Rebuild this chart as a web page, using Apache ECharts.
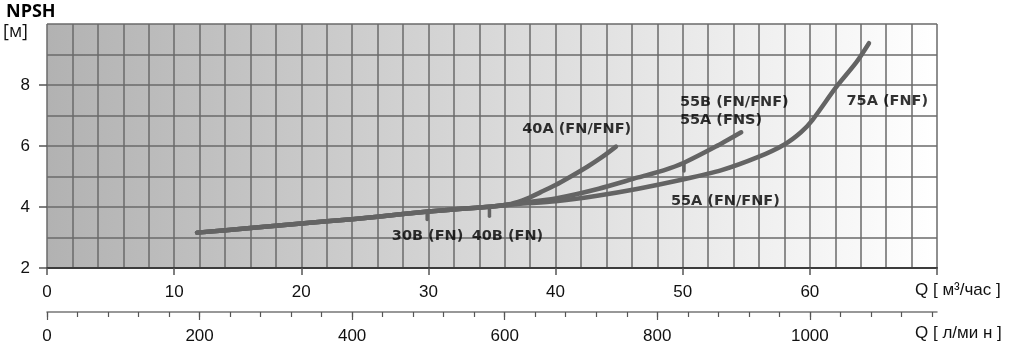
<!DOCTYPE html>
<html>
<head>
<meta charset="utf-8">
<script src="https://cdn.jsdelivr.net/npm/echarts@6/dist/echarts.min.js"></script>
<style>
html,body{margin:0;padding:0;background:#fff;}
#chart{width:1009px;height:349px;}
</style>
</head>
<body>
<div id="chart"></div>
<script>
// ---- data ----
var qTicks = [0, 10, 20, 30, 40, 50, 60, 70];          // m3/h ticks
var qLabels = [0, 10, 20, 30, 40, 50, 60];              // m3/h labels
var lMinorTicks = [0, 40, 80, 120, 160, 200, 240, 280, 320, 360, 400, 440, 480, 520, 560, 600,
                   640, 680, 720, 760, 800, 840, 880, 920, 960, 1000, 1040, 1080, 1120, 1160];
var lLabels = [0, 200, 400, 600, 800, 1000];            // l/min labels & long ticks
var yLabels = [2, 4, 6, 8];

// common part of all curves
var curveBase = [[11.8, 3.16], [16, 3.31], [20, 3.46], [24, 3.6], [28, 3.77], [30, 3.85], [32, 3.92], [34.8, 4.01]];
// 40A (FN/FNF) tail
var curve40A = [[36.5, 4.1], [37.8, 4.28], [38.8, 4.48], [40, 4.72], [41.2, 5.0], [42.5, 5.32], [43.7, 5.65], [44.75, 5.98]];
// 55B (FN/FNF), 55A (FNS) tail
var curve55B = [[37, 4.12], [40, 4.28], [43.4, 4.6], [46.5, 4.97], [48.5, 5.2], [50.1, 5.45], [52.6, 5.98], [54.6, 6.45]];
// 55A (FN/FNF) -> 75A (FNF) tail
var curve75A = [[37, 4.1], [40, 4.19], [43.4, 4.38], [46.5, 4.6], [50, 4.9], [53, 5.2], [56, 5.65], [58, 6.05], [59.3, 6.45], [60.2, 6.85], [62.05, 7.92], [63.65, 8.74], [64.65, 9.37]];
// short end-marks hanging below the curves
var mark30B = [[29.9, 3.84], [29.9, 3.59]];
var mark40B = [[34.8, 4.01], [34.8, 3.7]];
var mark55B = [[50.1, 5.45], [50.1, 5.18]];
// curve labels: [x (left edge), y (centre), text]
var curveLabels = [
  [37.38, 6.55, '40A (FN/FNF)'],
  [49.78, 7.45, '55B (FN/FNF)'],
  [49.78, 6.83, '55A (FNS)'],
  [62.88, 7.48, '75A (FNF)'],
  [49.07, 4.2, '55A (FN/FNF)'],
  [27.12, 3.05, '30B (FN)'],
  [33.4, 3.05, '40B (FN)']
];

var LMIN_MAX = 70 * 1000 / 60;

var chart = echarts.init(document.getElementById('chart'), null, {renderer: 'canvas'});

var lineColor = '#646464';
var gridColor = '#6a6a6a';
var axisFont = 'Liberation Sans';

function curveSeries(name, data) {
  return {
    name: name, type: 'line', data: data, showSymbol: false, smooth: 0.25,
    xAxisIndex: 0, yAxisIndex: 0,
    silent: true, animation: false,
    lineStyle: {color: lineColor, width: 4.5, cap: 'round', join: 'round'}
  };
}
function markSeries(name, data) {
  return {
    name: name, type: 'line', data: data, showSymbol: false, silent: true, animation: false,
    xAxisIndex: 0, yAxisIndex: 0,
    lineStyle: {color: lineColor, width: 3.5, cap: 'round'}
  };
}

var option = {
  animation: false,
  grid: {
    left: 47, right: 72, top: 24, bottom: 81,
    show: true, borderWidth: 0,
    backgroundColor: {
      type: 'linear', x: 0, y: 0, x2: 1, y2: 0,
      colorStops: [{offset: 0, color: '#b2b2b2'}, {offset: 1, color: '#ffffff'}]
    }
  },
  graphic: [
    {type: 'text', left: 6, top: 3, style: {text: 'NPSH', font: 'bold 18px "Open Sans"', fill: '#000'}},
    {type: 'text', left: 3, top: 23, style: {text: '[м]', font: '18px "Open Sans"', fill: '#111'}}
  ],
  xAxis: [
    // 0: main scale, grid lines every 2 m3/h + bottom axis line
    {
      type: 'value', min: 0, max: 70, interval: 2, position: 'bottom',
      axisLine: {show: true, onZero: false, lineStyle: {color: '#3c3c3c', width: 2}},
      axisTick: {show: false},
      axisLabel: {show: false},
      splitLine: {show: true, lineStyle: {color: gridColor, width: 1.5}}
    },
    // 1: m3/h ticks, labels, name
    {
      type: 'value', min: 0, max: 70, interval: 10, position: 'bottom',
      name: 'Q [ м³/час ]', nameLocation: 'end', nameGap: -22,
      nameTextStyle: {fontFamily: axisFont, fontSize: 17, color: '#111', verticalAlign: 'top', align: 'left', padding: [14, 0, 0, 0]},
      axisLine: {show: false, onZero: false},
      axisTick: {show: true, customValues: qTicks, length: 7, lineStyle: {color: '#555', width: 1.5}},
      axisLabel: {show: true, customValues: qLabels, fontFamily: axisFont, fontSize: 17, color: '#111', margin: 16},
      splitLine: {show: false}
    },
    // 2: l/min axis
    {
      type: 'value', min: 0, max: LMIN_MAX, interval: 40, position: 'bottom', offset: 44,
      name: 'Q [ л/ми н ]', nameLocation: 'end', nameGap: -22,
      nameTextStyle: {fontFamily: axisFont, fontSize: 17, color: '#111', verticalAlign: 'top', align: 'left', padding: [13, 0, 0, 0]},
      axisLine: {show: true, onZero: false, lineStyle: {color: '#777', width: 1.5}},
      axisTick: {show: true, customValues: lMinorTicks, length: 5, lineStyle: {color: '#555', width: 1.2}},
      axisLabel: {show: true, customValues: lLabels, fontFamily: axisFont, fontSize: 17, color: '#111', margin: 16,
                  formatter: function (v) { return String(v); }},
      splitLine: {show: false}
    },
    // 3: long l/min ticks
    {
      type: 'value', min: 0, max: LMIN_MAX, interval: 40, position: 'bottom', offset: 44,
      axisLine: {show: false, onZero: false},
      axisTick: {show: true, customValues: lLabels, length: 8, lineStyle: {color: '#555', width: 1.2}},
      axisLabel: {show: false},
      splitLine: {show: false}
    }
  ],
  yAxis: [
    {
      type: 'value', min: 2, max: 10, interval: 1,
      axisLine: {show: false},
      axisTick: {show: false},
      axisLabel: {show: false},
      splitLine: {show: true, lineStyle: {color: gridColor, width: 1.5}}
    },
    {
      type: 'value', min: 2, max: 10, interval: 2, position: 'left',
      axisLine: {show: false, onZero: false},
      axisTick: {show: true, customValues: yLabels, length: 8, lineStyle: {color: '#555', width: 1.5}},
      axisLabel: {show: true, customValues: yLabels, fontFamily: axisFont, fontSize: 17, color: '#111', margin: 17},
      splitLine: {show: false}
    }
  ],
  series: [
    curveSeries('40A (FN/FNF)', curveBase.concat(curve40A)),
    curveSeries('55B (FN/FNF) / 55A (FNS)', curveBase.concat(curve55B)),
    curveSeries('55A (FN/FNF) / 75A (FNF)', curveBase.concat(curve75A)),
    markSeries('30B', mark30B),
    markSeries('40B', mark40B),
    markSeries('55B', mark55B),
    {
      name: 'labels', type: 'scatter', data: curveLabels, symbolSize: 0, silent: true, animation: false,
      xAxisIndex: 0, yAxisIndex: 0,
      label: {
        show: true, position: 'right', distance: 0,
        formatter: function (p) { return p.data[2]; },
        fontFamily: 'DejaVu Sans', fontWeight: 'bold', fontSize: 14.5, color: '#000'
      }
    }
  ]
};
chart.setOption(option);
</script>
</body>
</html>
